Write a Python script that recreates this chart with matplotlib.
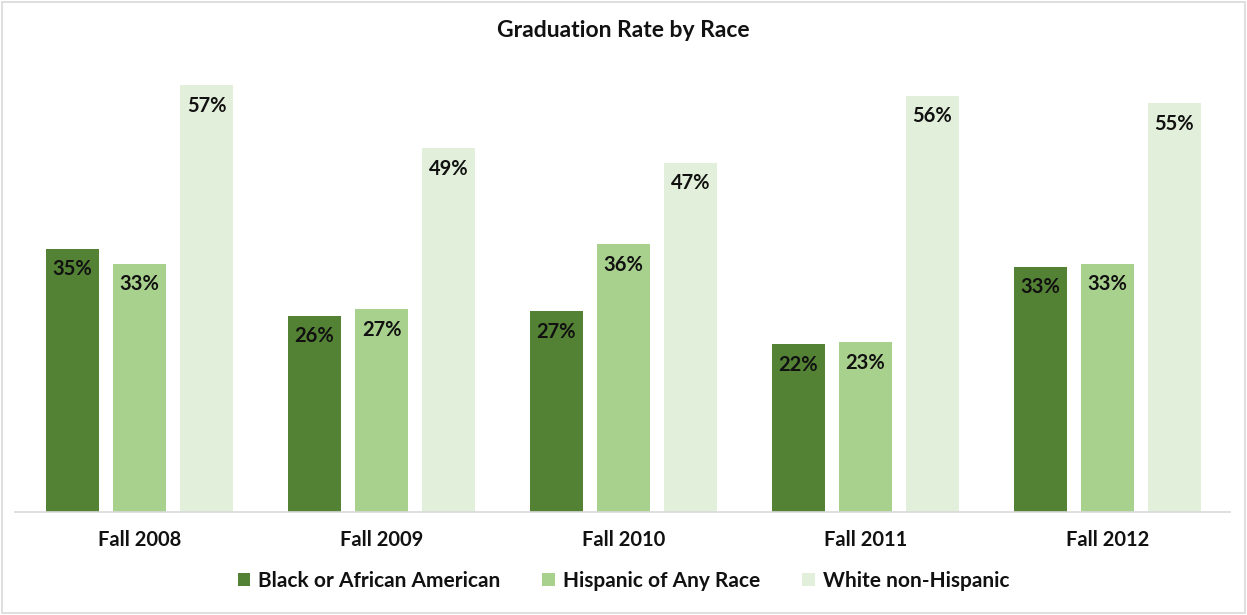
import numpy as np
import matplotlib.pyplot as plt
from matplotlib.patches import Rectangle

# data (percent)
terms = ["Fall 2008", "Fall 2009", "Fall 2010", "Fall 2011", "Fall 2012"]
black = [35.2, 26.2, 26.8, 22.4, 32.8]
hispanic = [33.2, 27.1, 35.8, 22.7, 33.2]
white = [57.0, 48.6, 46.7, 55.6, 54.6]

series_names = ["Black or African American", "Hispanic of Any Race", "White non-Hispanic"]
colors = ["#548235", "#A9D18E", "#E2EFDA"]

plt.rcParams["font.family"] = ["Lato", "DejaVu Sans"]

fig = plt.figure(figsize=(12.47, 6.15), dpi=100)
ax = fig.add_axes([0.012, 0.1675, 0.974, 0.73])

x = np.arange(len(terms))
width = 0.22
pitch = 0.277

for i, (vals, name, col) in enumerate(zip([black, hispanic, white], series_names, colors)):
    bars = ax.bar(x + (i - 1) * pitch, vals, width, color=col, label=name, zorder=2)
    for b, v in zip(bars, vals):
        ax.text(b.get_x() + b.get_width() / 2, v - 1.4, f"{v:.0f}%",
                ha="center", va="top", fontsize=14.5, fontweight="bold", color="#111111")

ax.set_xlim(-0.515, 4.505)
ax.set_ylim(0, 60)
ax.set_yticks([])
ax.set_xticks(x)
ax.set_xticklabels(terms, fontsize=14.5, fontweight="bold", color="#111111")
ax.tick_params(axis="x", length=0, pad=13)
for s in ["top", "right", "left"]:
    ax.spines[s].set_visible(False)
ax.spines["bottom"].set_color("#d9d9d9")
ax.spines["bottom"].set_linewidth(1.2)

fig.suptitle("Graduation Rate by Race", y=0.968, fontsize=16.5, fontweight="bold", color="#111111")

leg = fig.legend(loc="center", bbox_to_anchor=(0.5, 0.055), ncol=3, frameon=False,
                 prop={"size": 15, "weight": "bold"}, handlelength=0.6, handleheight=0.6,
                 handletextpad=0.4, columnspacing=2.0)
for t in leg.get_texts():
    t.set_color("#111111")

# light border around whole chart
fig.patches.append(Rectangle((0.002, 0.003), 0.996, 0.994, transform=fig.transFigure,
                             fill=False, edgecolor="#d9d9d9", linewidth=1.2))

fig.savefig("out.png", dpi=100)
